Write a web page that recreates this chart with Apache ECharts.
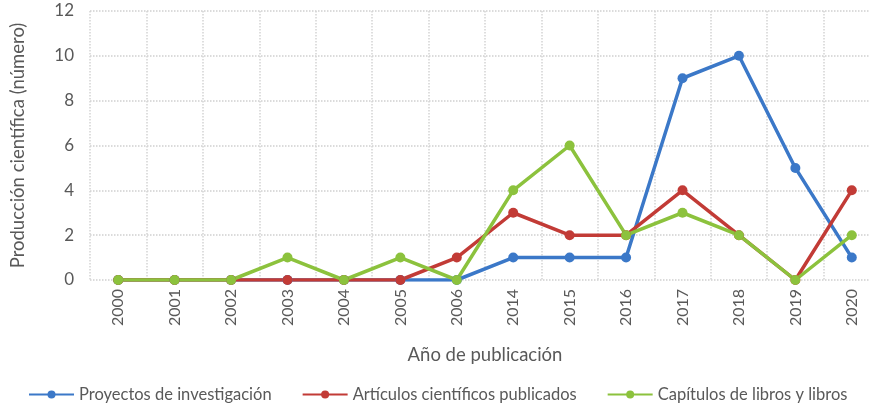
<!DOCTYPE html>
<html>
<head>
<meta charset="utf-8">
<script src="https://cdn.jsdelivr.net/npm/echarts@6/dist/echarts.min.js"></script>
<style>
  html, body { margin: 0; padding: 0; background: #fff; }
  #chart { width: 870px; height: 412px; }
</style>
</head>
<body>
<div id="chart"></div>
<script>
// data
const years = ['2000', '2001', '2002', '2003', '2004', '2005', '2006', '2014', '2015', '2016', '2017', '2018', '2019', '2020'];
const proyectos = [0, 0, 0, 0, 0, 0, 0, 1, 1, 1, 9, 10, 5, 1];
const articulos = [0, 0, 0, 0, 0, 0, 1, 3, 2, 2, 4, 2, 0, 4];
const capitulos = [0, 0, 0, 1, 0, 1, 0, 4, 6, 2, 3, 2, 0, 2];
const yTicks = [0, 2, 4, 6, 8, 10, 12];

const font = 'Lato, "Open Sans", sans-serif';
const txt = '#595959';

function line(name, data, color) {
  return {
    name: name,
    type: 'line',
    data: data,
    symbol: 'circle',
    symbolSize: 10,
    lineStyle: { width: 3.5, color: color },
    itemStyle: { color: color },
    emphasis: { disabled: true }
  };
}

const chart = echarts.init(document.getElementById('chart'));
chart.setOption({
  animation: false,
  textStyle: { fontFamily: font },
  grid: { left: 90, top: 11, width: 790, bottom: 132, outerBoundsMode: 'none' },
  legend: {
    bottom: 4,
    left: 23,
    width: 860,
    itemWidth: 45,
    itemHeight: 10,
    itemGap: 30,
    textStyle: { fontFamily: font, fontSize: 16.5, color: txt },
    data: ['Proyectos de investigación', 'Artículos científicos publicados', 'Capítulos de libros y libros']
  },
  xAxis: {
    type: 'category',
    data: years,
    boundaryGap: true,
    name: 'Año de publicación',
    nameLocation: 'middle',
    nameGap: 66,
    nameTextStyle: { fontFamily: font, fontSize: 18.5, color: txt },
    axisLine: { show: false },
    axisTick: { show: false },
    axisLabel: { rotate: 90, fontSize: 16, color: txt, fontFamily: font, margin: 9 },
    splitLine: { show: true, interval: 0, lineStyle: { color: '#d4d4d4', type: 'dotted', width: 1.5 } }
  },
  yAxis: {
    type: 'value',
    min: yTicks[0],
    max: yTicks[yTicks.length - 1],
    interval: 2,
    name: 'Producción científica (número)',
    nameLocation: 'middle',
    nameGap: 62,
    nameTextStyle: { fontFamily: font, fontSize: 18.5, color: txt },
    axisLine: { show: false },
    axisTick: { show: false },
    axisLabel: { fontSize: 17, color: txt, fontFamily: font, margin: 16 },
    splitLine: { lineStyle: { color: '#cfcfcf', type: 'dotted', width: 1.5 } }
  },
  series: [
    line('Proyectos de investigación', proyectos, '#3b78c8'),
    line('Artículos científicos publicados', articulos, '#c23b36'),
    line('Capítulos de libros y libros', capitulos, '#8cc23d')
  ]
});
</script>
</body>
</html>
